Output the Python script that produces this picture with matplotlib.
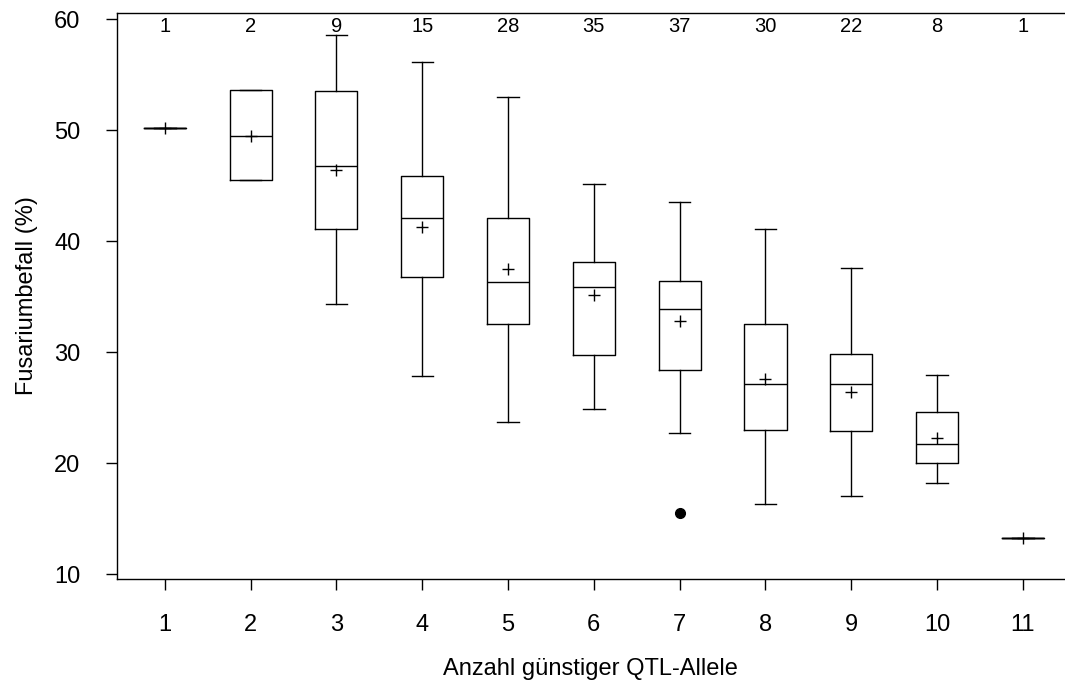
import matplotlib
matplotlib.use("Agg")
import matplotlib.pyplot as plt

plt.rcParams['font.family'] = ['Liberation Sans', 'DejaVu Sans']

# Anzahl günstiger QTL-Allele
groups = [1, 2, 3, 4, 5, 6, 7, 8, 9, 10, 11]
counts = [1, 2, 9, 15, 28, 35, 37, 30, 22, 8, 1]

# Fusariumbefall (%)
whislo = [50.2, 45.5, 34.3, 27.8, 23.7, 24.9, 22.7, 16.3, 17.0, 18.2, 13.2]
q1 = [50.2, 45.5, 41.1, 36.8, 32.5, 29.7, 28.4, 23.0, 22.9, 20.0, 13.2]
med = [50.2, 49.5, 46.8, 42.1, 36.3, 35.9, 33.9, 27.1, 27.1, 21.7, 13.2]
q3 = [50.2, 53.6, 53.5, 45.9, 42.1, 38.1, 36.4, 32.5, 29.8, 24.6, 13.2]
whishi = [50.2, 53.6, 58.6, 56.1, 53.0, 45.1, 43.5, 41.1, 37.6, 27.9, 13.2]
means = [50.2, 49.5, 46.4, 41.3, 37.5, 35.1, 32.8, 27.6, 26.4, 22.3, 13.2]
outliers = [[], [], [], [], [], [], [15.5], [], [], [], []]

stats = []
for i in range(len(groups)):
    stats.append(dict(whislo=whislo[i], q1=q1[i], med=med[i], q3=q3[i],
                      whishi=whishi[i], mean=means[i], fliers=outliers[i]))

fig = plt.figure(figsize=(10.65, 6.84), dpi=100)
ax = fig.add_axes([0.1096, 0.1535, 0.8904, 0.8275])

line = dict(color='black', linewidth=1.0)
ax.bxp(stats, positions=groups, widths=0.49, capwidths=0.25,
       showmeans=True, meanline=False, showfliers=True,
       boxprops=line, whiskerprops=line, capprops=line, medianprops=line,
       meanprops=dict(marker='+', markersize=9, markeredgecolor='black',
                      markeredgewidth=1.0),
       flierprops=dict(marker='o', markersize=7, markerfacecolor='black',
                       markeredgecolor='black'))

for g, c in zip(groups, counts):
    ax.text(g, 59.35, str(c), ha='center', va='center', fontsize=14.5)

ax.set_xlim(0.44, 11.49)
ax.set_ylim(9.55, 60.55)
ax.set_yticks([10, 20, 30, 40, 50, 60])
ax.set_xticks(groups)
ax.set_xticklabels([str(g) for g in groups])
ax.tick_params(axis='both', direction='out', length=8, width=1.0,
               labelsize=17, color='black')
ax.tick_params(axis='x', pad=17)
ax.tick_params(axis='y', pad=18)

ax.spines['right'].set_visible(False)
for s in ['top', 'left', 'bottom']:
    ax.spines[s].set_linewidth(1.0)

ax.set_xlabel('Anzahl günstiger QTL-Allele', fontsize=17, labelpad=16)
ax.set_ylabel('Fusariumbefall (%)', fontsize=17, labelpad=12)

fig.savefig('out.png', dpi=100)
